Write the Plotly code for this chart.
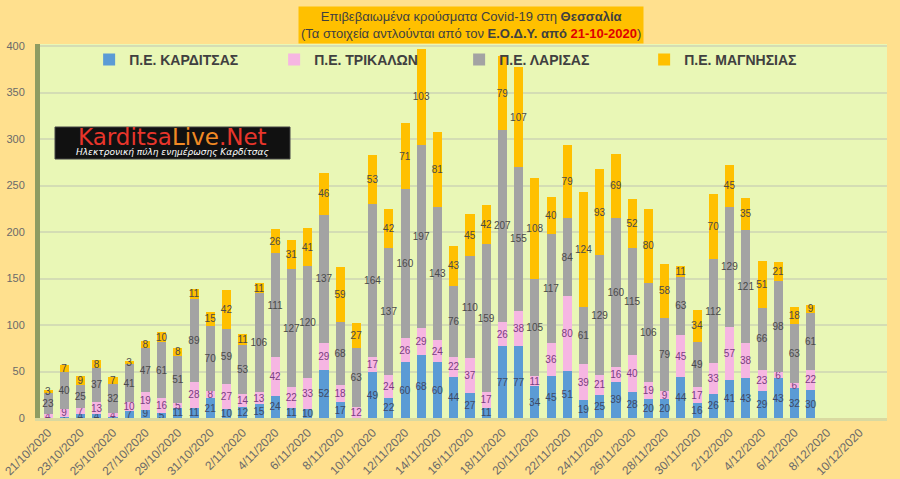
import pandas as pd
import plotly.graph_objects as go

# daily confirmed cases per regional unit of Thessaly, 21/10/2020 -> 7/12/2020
dates = pd.date_range("2020-10-21", periods=48, freq="D")

karditsa = [0, 1, 4, 4, 1, 7, 9, 5, 11, 11, 21, 10, 12, 15, 24, 11, 10, 52, 17, 0,
            49, 22, 60, 68, 60, 44, 27, 11, 77, 77, 34, 45, 51, 19, 25, 39, 28, 20, 20, 44,
            16, 26, 41, 43, 29, 43, 32, 30]
trikala = [4, 9, 7, 13, 4, 10, 19, 16, 5, 28, 8, 27, 14, 13, 42, 22, 33, 29, 18, 12,
           17, 24, 26, 29, 24, 22, 37, 17, 26, 38, 11, 36, 80, 39, 21, 16, 40, 19, 9, 45,
           17, 33, 57, 38, 23, 6, 6, 22]
larisa = [23, 40, 25, 37, 32, 41, 47, 61, 51, 89, 70, 59, 53, 106, 111, 127, 120, 137, 68, 63,
          164, 137, 160, 197, 143, 76, 110, 159, 207, 155, 105, 117, 84, 61, 129, 160, 115, 106, 79, 63,
          49, 112, 129, 121, 66, 98, 63, 61]
magnisia = [3, 7, 9, 8, 7, 3, 8, 10, 8, 11, 15, 42, 11, 11, 26, 31, 41, 46, 59, 27,
            53, 42, 71, 103, 81, 43, 45, 42, 79, 107, 108, 40, 79, 124, 93, 69, 52, 80, 58, 11,
            34, 70, 45, 35, 51, 21, 18, 9]

series = [
    ("Π.Ε. ΚΑΡΔΙΤΣΑΣ", karditsa, "#5B9BD5", "#3E4A66"),
    ("Π.Ε. ΤΡΙΚΑΛΩΝ", trikala, "#F6B6E2", "#7A3F80"),
    ("Π.Ε. ΛΑΡΙΣΑΣ", larisa, "#A3A3A3", "#4A4A4A"),
    ("Π.Ε. ΜΑΓΝΗΣΙΑΣ", magnisia, "#FFC000", "#4A4A4A"),
]

DAY = 86400000
font_main = "Liberation Sans, Arial, sans-serif"

fig = go.Figure()
for name, vals, col, txtcol in series:
    fig.add_trace(go.Bar(
        x=dates, y=vals, name=name,
        width=0.56 * DAY,
        marker=dict(color=col, line=dict(width=0)),
        text=vals, textposition="inside", insidetextanchor="middle",
        textangle=0, constraintext="none",
        textfont=dict(size=10, color=txtcol, family=font_main),
        hoverinfo="x+y+name",
    ))

fig.update_layout(
    barmode="stack",
    width=900, height=479,
    margin=dict(l=40, r=13, t=44, b=61),
    paper_bgcolor="#FFE08E",
    plot_bgcolor="#E9F7B6",
    uniformtext=dict(minsize=10, mode="show"),
    legend=dict(
        orientation="h", x=0.058, y=1.0, xanchor="left", yanchor="top",
        entrywidth=140, entrywidthmode="pixels",
        font=dict(size=14, color="#404040", family=font_main, weight="bold"),
        bgcolor="rgba(0,0,0,0)", itemwidth=30,
        traceorder="normal",
    ),
    xaxis=dict(
        type="date", automargin=False,
        range=[dates[0] - pd.Timedelta(hours=12), dates[0] + pd.Timedelta(days=51.7)],
        tick0="2020-10-21", dtick=2 * DAY,
        tickformat="%-d/%m/%Y", tickangle=-45,
        tickfont=dict(size=12, color="#6A6A6A", family=font_main),
        showgrid=False, showline=True, linecolor="#D9D9A0", linewidth=3,
        ticks="",
    ),
    yaxis=dict(
        range=[0, 402.2], dtick=50, automargin=False,
        tickfont=dict(size=11, color="#6A6A6A", family=font_main),
        ticklabelstandoff=8,
        gridcolor="#D4DDB4", gridwidth=2,
        showline=True, linecolor="#8E9C62", linewidth=5,
        zeroline=False, ticks="",
    ),
    font=dict(family=font_main),
)

# title box
fig.add_annotation(
    xref="paper", yref="paper", x=0.509, y=1.0, yshift=38, xanchor="center", yanchor="top",
    text=("Επιβεβαιωμένα κρούσματα Covid-19 στη <b>Θεσσαλία</b><br>"
          "(Τα στοιχεία αντλούνται από τον <b>Ε.Ο.Δ.Υ. από</b> "
          "<b><span style='color:#E00000'>21-10-2020</span></b>)"),
    showarrow=False, align="center",
    font=dict(size=13, color="#404040", family=font_main),
    bgcolor="#FFC000", borderpad=2,
)

# logo
fig.add_shape(type="rect", xref="paper", yref="paper",
              x0=(55 - 40) / 847, x1=(290 - 40) / 847,
              y0=(418 - 159) / 374, y1=(418 - 127) / 374,
              fillcolor="#111111", line=dict(color="#444444", width=1))
fig.add_annotation(
    xref="paper", yref="paper", x=(172 - 40) / 847, y=(418 - 137) / 374,
    text="<span style='color:#E8352B'>Karditsa</span><span style='color:#F08A24'>Live</span>"
         "<span style='color:#E8352B'>.Net</span>",
    showarrow=False, font=dict(size=23, family="DejaVu Sans"), xanchor="center", yanchor="middle",
)
fig.add_annotation(
    xref="paper", yref="paper", x=(172 - 40) / 847, y=(418 - 152) / 374,
    text="<i>Ηλεκτρονική πύλη ενημέρωσης Καρδίτσας</i>",
    showarrow=False, font=dict(size=9, color="white", family="DejaVu Sans"),
    xanchor="center", yanchor="middle",
)

fig.write_html("out.html", config={"displayModeBar": False},
               post_script="document.body.style.margin='0';")
